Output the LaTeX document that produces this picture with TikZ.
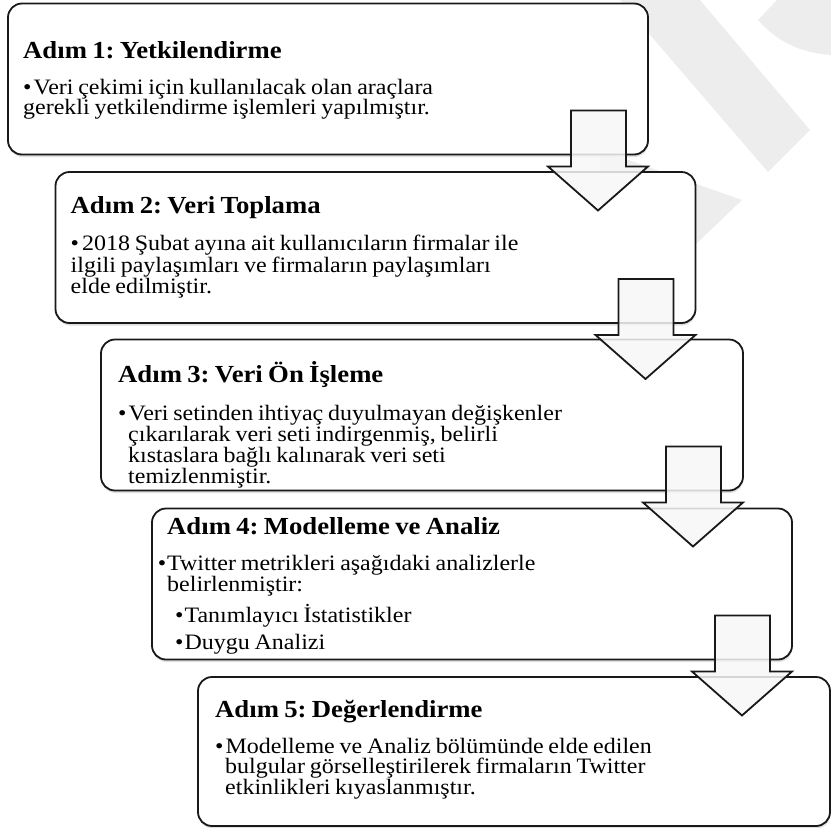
\documentclass[tikz,border=0pt]{standalone}
\usepackage{fontspec}
\setmainfont{Liberation Serif}[FakeStretch=1.09, WordSpace=0.8]
\usetikzlibrary{shadows}
\newcommand{\steptitle}[1]{{\fontsize{24.5}{26}\selectfont\bfseries\rule{0pt}{23pt}#1}}
\begin{document}
\frenchspacing
\begin{tikzpicture}[x=1pt,y=-1pt,
  stepbox/.style={draw=black!90, line width=1.8pt, rounded corners=14pt, fill=white,
    minimum width=640pt, minimum height=151pt, inner sep=0pt, outer sep=0pt,
    drop shadow={opacity=0.25, shadow xshift=0.5pt, shadow yshift=-2.5pt}},
  steptext/.style={anchor=north west, align=left, inner sep=0pt,
    font=\fontsize{22}{20}\selectfont},
  blockarrow/.style={draw=black!90, line width=1.8pt, fill=black!3, fill opacity=0.85},
  watermark/.style={fill=black!7, draw=none}]
\useasboundingbox (0,0) rectangle (831,828);

% faint watermark
\fill[watermark] (620,0) -- (700,0) -- (810,130) -- (768,172) -- cycle;
\fill[watermark] (777,0) -- (758,20) .. controls (780,45) and (805,53) .. (831,55) -- (831,0) -- cycle;
\fill[watermark] (600,150) -- (742,200) -- (695,245) -- (600,210) -- cycle;

% boxes
\node[stepbox] (1) at (328,79) {};
\node[stepbox] (2) at (375.5,247.5) {};
\node[stepbox, minimum width=642pt] (3) at (422,415) {};
\node[stepbox] (4) at (472,584) {};
\node[stepbox, minimum width=632pt, minimum height=149pt] (5) at (514,751.5) {};

% texts
\node[steptext] (t1) at ([shift={(15,32)}]1.north west) {\steptitle{Adım 1: Yetkilendirme}\\[16pt]
  \textbullet\hspace{2pt}Veri çekimi için kullanılacak olan araçlara\\
  gerekli yetkilendirme işlemleri yapılmıştır.};
\node[steptext] (t2) at ([shift={(15,18)}]2.north west) {\steptitle{Adım 2: Veri Toplama}\\[16pt]
  \textbullet\hspace{3pt}2018 Şubat ayına ait kullanıcıların firmalar ile\\
  ilgili paylaşımları ve firmaların paylaşımları\\
  elde edilmiştir.};
\node[steptext] (t3) at ([shift={(17,20)}]3.north west) {\steptitle{Adım 3: Veri Ön İşleme}\\[16pt]
  \textbullet\hspace{2pt}Veri setinden ihtiyaç duyulmayan değişkenler\\
  \hspace{10pt}çıkarılarak veri seti indirgenmiş, belirli\\
  \hspace{10pt}kıstaslara bağlı kalınarak veri seti\\
  \hspace{10pt}temizlenmiştir.};
\node[steptext] (t4) at ([shift={(15,3)}]4.north west) {\steptitle{Adım 4: Modelleme ve Analiz}\\[16pt]
  \leavevmode\llap{\textbullet\hspace{1pt}}Twitter metrikleri aşağıdaki analizlerle\\
  belirlenmiştir:\\[7pt]
  \hspace{8pt}\textbullet\hspace{1pt}Tanımlayıcı İstatistikler\\[6pt]
  \hspace{8pt}\textbullet\hspace{1pt}Duygu Analizi};
\node[steptext] (t5) at ([shift={(17,17)}]5.north west) {\steptitle{Adım 5: Değerlendirme}\\[15pt]
  \textbullet\hspace{2pt}Modelleme ve Analiz bölümünde elde edilen\\
  \hspace{10pt}bulgular görselleştirilerek firmaların Twitter\\
  \hspace{10pt}etkinlikleri kıyaslanmıştır.};

% block arrows
\foreach \i in {1,...,4}
  \draw[blockarrow] ([shift={(-77,-44)}]\i.south east) -- ++(55,0) -- ++(0,56) -- ++(22,0)
    -- ++(-50,44) -- ++(-50,-44) -- ++(23,0) -- cycle;
\end{tikzpicture}
\end{document}
